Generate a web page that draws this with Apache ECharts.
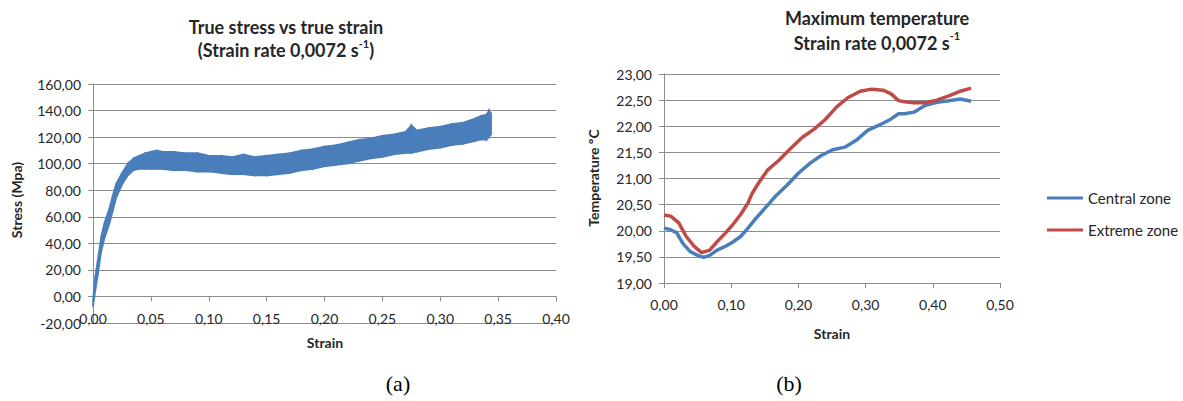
<!DOCTYPE html>
<html><head><meta charset="utf-8">
<script src="https://cdn.jsdelivr.net/npm/echarts@6/dist/echarts.min.js"></script>
<style>html,body{margin:0;padding:0;background:#fff}#c{width:1183px;height:401px}</style>
</head><body><div id="c"></div>
<script>
// ---- Chart (a): true stress vs true strain (noisy band: lower / upper envelope) ----
const stressStrain = [0, 0.002, 0.004, 0.007, 0.010, 0.014, 0.017, 0.020, 0.025, 0.030, 0.035, 0.040, 0.045, 0.050, 0.055, 0.060, 0.070, 0.080, 0.090, 0.100, 0.110, 0.120, 0.130, 0.140, 0.150, 0.160, 0.170, 0.180, 0.190, 0.200, 0.210, 0.220, 0.230, 0.240, 0.250, 0.260, 0.270, 0.275, 0.280, 0.290, 0.300, 0.310, 0.320, 0.330, 0.335, 0.340, 0.342, 0.344];
const stressUpper  = [-2, 16, 27, 45, 56, 66, 76, 85, 93, 100, 104, 106, 108, 109, 110, 109, 109, 108, 108, 106, 106, 105, 107, 105, 106, 107, 108, 110, 111, 113, 114, 116, 118, 119, 121, 122, 124, 129, 125, 127, 128, 130, 131, 134, 136, 137, 140, 138];
const stressLower  = [-8, 4, 15, 33, 44, 54, 64, 74, 84, 91, 95, 96, 96, 96, 96, 96, 95, 95, 94, 94, 93, 92, 92, 91, 91, 92, 93, 95, 96, 98, 99, 100, 102, 104, 105, 107, 108, 108, 109, 111, 112, 114, 115, 117, 118, 118, 120, 122];

// ---- Chart (b): maximum temperature ----
const tempStrainCentral = [0, 0.010, 0.019, 0.028, 0.039, 0.050, 0.059, 0.068, 0.079, 0.091, 0.102, 0.114, 0.125, 0.137, 0.148, 0.157, 0.165, 0.183, 0.200, 0.217, 0.234, 0.251, 0.269, 0.286, 0.303, 0.320, 0.338, 0.349, 0.358, 0.372, 0.389, 0.406, 0.424, 0.441, 0.457];
const tempCentral       = [20.05, 20.02, 19.96, 19.76, 19.60, 19.53, 19.49, 19.53, 19.63, 19.70, 19.78, 19.89, 20.05, 20.24, 20.40, 20.53, 20.65, 20.87, 21.10, 21.29, 21.44, 21.55, 21.60, 21.73, 21.92, 22.02, 22.14, 22.24, 22.24, 22.27, 22.40, 22.46, 22.49, 22.52, 22.48];
const tempStrainExtreme = [0, 0.010, 0.022, 0.033, 0.045, 0.056, 0.068, 0.079, 0.091, 0.102, 0.114, 0.125, 0.131, 0.140, 0.154, 0.171, 0.188, 0.206, 0.223, 0.240, 0.257, 0.274, 0.292, 0.309, 0.326, 0.338, 0.349, 0.358, 0.372, 0.389, 0.406, 0.424, 0.441, 0.457];
const tempExtreme       = [20.30, 20.28, 20.15, 19.89, 19.70, 19.58, 19.63, 19.79, 19.95, 20.11, 20.31, 20.53, 20.71, 20.90, 21.16, 21.35, 21.57, 21.79, 21.94, 22.13, 22.37, 22.55, 22.67, 22.71, 22.69, 22.62, 22.49, 22.47, 22.45, 22.45, 22.50, 22.58, 22.67, 22.73];

const FONT = 'Lato, "Open Sans", sans-serif';
const TXT = '#262626';
const GRID = '#8c8c8c';
const BLUE = '#4a7ebb';
const RED = '#be4b48';
const fmt = v => v.toFixed(2).replace('.', ',');

// band segments: [x0, lo0, up0, x1, lo1, up1]
const bandSegs = stressStrain.slice(0, -1).map((x, i) =>
  [x, stressLower[i], stressUpper[i], stressStrain[i + 1], stressLower[i + 1], stressUpper[i + 1]]);

function yAx(gi, min, max, interval) {
  return {
    type: 'value', gridIndex: gi, min, max, interval,
    axisLine: { show: true, onZero: false, lineStyle: { color: GRID, width: 1 } },
    axisTick: { show: true, length: 5, lineStyle: { color: GRID } },
    splitLine: { show: true, lineStyle: { color: GRID, width: 1 } },
    axisLabel: { formatter: fmt, margin: 12, color: TXT, fontSize: 14, fontFamily: FONT }
  };
}
function xAx(gi, min, max, interval, margin, offset) {
  return {
    type: 'value', gridIndex: gi, min, max, interval, offset,
    axisLine: { show: true, onZero: false, lineStyle: { color: GRID, width: 1 } },
    axisTick: { show: true, length: 5, lineStyle: { color: GRID } },
    splitLine: { show: false },
    axisLabel: { formatter: fmt, margin, color: TXT, fontSize: 14, fontFamily: FONT }
  };
}
function txt(text, x, y, size, opts) {
  return Object.assign({
    type: 'text', x, y,
    style: { text, fill: TXT, fontSize: size, fontWeight: 'bold', fontFamily: FONT, align: 'center', verticalAlign: 'middle' }
  }, opts || {});
}

const chart = echarts.init(document.getElementById('c'), null, { renderer: 'svg' });
chart.setOption({
  animation: false,
  backgroundColor: '#fff',
  grid: [
    { left: 93, top: 84, width: 463, height: 239 },
    { left: 664, top: 74, width: 336, height: 209 }
  ],
  // x axis of (a) sits on the 0,00 line (one interval of 20 above the -20 bottom)
  xAxis: [xAx(0, 0, 0.4, 0.05, 15, -239 / 9), xAx(1, 0, 0.5, 0.1, 14, 0)],
  yAxis: [yAx(0, -20, 160, 20), yAx(1, 19, 23, 0.5)],
  legend: {
    orient: 'vertical', left: 1042, top: 184, itemWidth: 36, itemHeight: 3, itemGap: 14,
    icon: 'rect', data: ['Central zone', 'Extreme zone'],
    textStyle: { fontSize: 15, fontFamily: FONT, color: TXT, lineHeight: 18 }
  },
  series: [
    { type: 'custom', xAxisIndex: 0, yAxisIndex: 0, data: bandSegs, silent: true,
      encode: { x: [0, 3], y: [1, 2, 4, 5] },
      renderItem: (params, api) => {
        const pts = [
          api.coord([api.value(0), api.value(1)]),
          api.coord([api.value(0), api.value(2)]),
          api.coord([api.value(3), api.value(5)]),
          api.coord([api.value(3), api.value(4)])
        ];
        return { type: 'polygon', shape: { points: pts }, style: { fill: BLUE, stroke: BLUE, lineWidth: 1.5 } };
      } },
    { name: 'Central zone', type: 'line', xAxisIndex: 1, yAxisIndex: 1, symbol: 'none', color: BLUE,
      data: tempStrainCentral.map((x, i) => [x, tempCentral[i]]), lineStyle: { width: 3.5 } },
    { name: 'Extreme zone', type: 'line', xAxisIndex: 1, yAxisIndex: 1, symbol: 'none', color: RED,
      data: tempStrainExtreme.map((x, i) => [x, tempExtreme[i]]), lineStyle: { width: 3.5 } }
  ],
  graphic: [
    { type: 'text', x: 286, y: 38, style: {
        text: '{t|True stress vs true strain}\n{t|(Strain rate 0,0072 s}{s|-1}{t|)}',
        align: 'center', verticalAlign: 'middle', fill: TXT,
        rich: { t: { fontSize: 18, fontWeight: 'bold', fontFamily: FONT, lineHeight: 23, fill: TXT },
                s: { fontSize: 11, fontWeight: 'bold', fontFamily: FONT, lineHeight: 14, verticalAlign: 'top', fill: TXT } } } },
    { type: 'text', x: 877, y: 30, style: {
        text: '{t|Maximum temperature}\n{t|Strain rate 0,0072 s}{s|-1}',
        align: 'center', verticalAlign: 'middle', fill: TXT,
        rich: { t: { fontSize: 18, fontWeight: 'bold', fontFamily: FONT, lineHeight: 25, fill: TXT },
                s: { fontSize: 11, fontWeight: 'bold', fontFamily: FONT, lineHeight: 14, verticalAlign: 'top', fill: TXT } } } },
    txt('Strain', 325, 342, 14),
    txt('Strain', 832, 333, 14),
    txt('Stress (Mpa)', 16, 200, 14, { rotation: Math.PI / 2 }),
    txt('Temperature ºC', 593, 178, 14, { rotation: Math.PI / 2 }),
    { type: 'text', x: 398, y: 383, style: { text: '(a)', fontSize: 22, fontFamily: '"Liberation Serif", serif', fill: '#000', align: 'center', verticalAlign: 'middle' } },
    { type: 'text', x: 789, y: 383, style: { text: '(b)', fontSize: 22, fontFamily: '"Liberation Serif", serif', fill: '#000', align: 'center', verticalAlign: 'middle' } }
  ]
});
</script></body></html>
